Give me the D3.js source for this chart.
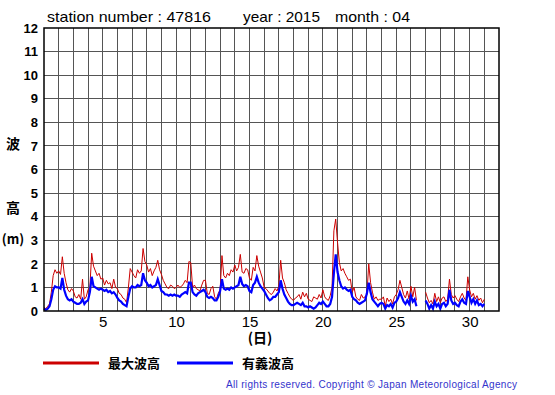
<!DOCTYPE html>
<html>
<head>
<meta charset="utf-8">
<script src="https://cdn.jsdelivr.net/npm/d3@7/dist/d3.min.js"></script>
<style>
  body { margin: 0; background: #fff; }
  svg { display: block; }
</style>
</head>
<body>
<div id="chart"></div>
<script>
// hourly step of the readings below (3-hourly, starting day 1 00h)
const stepHours = 3;

// 最大波高 (m), 8 readings per day, days 1..31
const maxWave = [
  0.15, 0.1, 0.2, 0.3, 0.8, 1.5, 1.75, 1.6,
  1.7, 1.55, 2.3, 1.6, 1.2, 0.9, 0.8, 0.95,
  0.85, 0.6, 0.55, 0.7, 0.5, 1.35, 0.5, 0.6,
  0.9, 1.0, 2.45, 1.9, 1.7, 1.5, 1.6, 1.35,
  1.4, 1.1, 1.3, 1.15, 1.2, 0.95, 1.35, 1.0,
  0.95, 0.75, 0.7, 0.55, 0.5, 0.35, 1.0, 1.8,
  1.65, 1.5, 1.4, 1.75, 1.6, 1.7, 2.65, 2.1,
  1.95, 1.65, 1.8, 1.5, 1.7, 1.85, 2.15, 1.75,
  1.55, 1.3, 1.15, 1.0, 0.95, 1.1, 1.05, 0.95,
  1.0, 1.1, 1.0, 1.05, 1.15, 1.3, 1.2, 2.1,
  2.05, 1.0, 1.1, 0.95, 0.9, 0.85, 1.1, 1.3,
  1.3, 0.75, 0.7, 0.95, 1.05, 0.6, 0.5, 0.75,
  0.9, 2.35, 1.5, 1.4, 1.6, 1.5, 1.75, 1.65,
  1.95, 1.7, 1.85, 2.4, 1.65, 1.6, 1.8, 1.75,
  1.4, 1.3, 1.85, 1.7, 2.35, 1.9, 1.65, 1.4,
  1.0, 0.95, 0.85, 0.75, 0.7, 0.8, 0.95, 0.85,
  1.05, 2.15, 1.4, 1.2, 0.9, 0.75, 0.6, 0.5,
  0.45, 0.55, 0.6, 0.7, 0.5, 0.8, 0.6, 0.75,
  0.5, 0.45, 0.4, 0.6, 0.55, 0.5, 0.7, 0.55,
  0.9, 0.6, 0.5, 0.45, 0.65, 1.0, 3.4, 3.9,
  2.9, 2.05, 1.7, 1.8, 1.6, 1.45, 1.3, 1.35,
  0.8, 1.0, 0.6, 0.5, 0.45, 0.7, 0.55, 0.6,
  0.7, 2.0, 1.2, 0.8, 0.5, 0.6, 0.45, 0.5,
  0.5, 0.6, 0.2, 0.55, 0.4, 0.5, 0.3, 0.6,
  0.7, 0.9, 1.3, 1.0, 0.7, 0.55, 0.85, 0.5,
  1.05, 0.6, 1.0, 0.45, null, null, null, null,
  0.8, 0.55, 0.35, 0.45, 0.3, 0.75, 0.4, 0.6,
  0.35, 0.55, 0.6, 0.4, 0.5, 1.35, 0.7, 0.55,
  0.65, 0.5, 0.4, 0.6, 0.75, 0.55, 0.45, 1.45,
  0.9, 0.6, 0.75, 0.5, 0.65, 0.45, 0.55, 0.35,
  0.5
];

// 有義波高 (m)
const sigWave = [
  0.1, 0.05, 0.1, 0.2, 0.5, 0.9, 1.05, 1.0,
  1.0, 0.95, 1.4, 0.9, 0.65, 0.5, 0.45, 0.5,
  0.4, 0.35, 0.3, 0.3, 0.35, 0.5, 0.3, 0.4,
  0.45, 0.8, 1.45, 1.05, 1.0, 0.95, 0.9, 0.95,
  0.9, 0.85, 0.9, 0.8, 0.85, 0.75, 0.8, 0.7,
  0.55, 0.45, 0.4, 0.3, 0.25, 0.2, 0.6, 0.95,
  1.05, 1.0, 1.0, 1.1, 1.05, 1.1, 1.6, 1.3,
  1.2, 1.05, 1.1, 1.0, 1.05, 1.1, 1.35, 1.1,
  0.85, 0.8, 0.7, 0.7, 0.65, 0.7, 0.65, 0.7,
  0.65, 0.65, 0.6, 0.7, 0.75, 0.8, 0.75, 1.2,
  1.2, 0.8, 0.7, 0.65, 0.75, 0.8, 0.85, 0.9,
  0.8, 0.6, 0.55, 0.6, 0.55, 0.45, 0.45, 0.6,
  0.85, 1.35, 0.95, 0.9, 0.95, 0.9, 1.0, 0.95,
  1.0, 1.05, 1.1, 1.45, 1.15, 1.05, 1.1, 1.05,
  0.85, 0.8, 1.1, 1.2, 1.45, 1.2, 1.05, 0.95,
  0.85, 0.7, 0.55, 0.45, 0.5, 0.6, 0.6, 0.7,
  0.8, 1.3, 0.95, 0.7, 0.55, 0.4, 0.3, 0.25,
  0.25, 0.3, 0.35, 0.3, 0.25, 0.35, 0.2, 0.2,
  0.15, 0.2, 0.15, 0.1, 0.15, 0.25, 0.35, 0.3,
  0.4, 0.3, 0.2, 0.2, 0.3, 0.6, 1.6, 2.4,
  1.65, 1.3, 1.05, 0.95, 1.0, 0.9, 0.85, 0.9,
  0.6, 0.5, 0.45, 0.35, 0.3, 0.35, 0.4, 0.45,
  0.75, 1.2, 0.8, 0.5, 0.4, 0.3, 0.2, 0.3,
  0.35, 0.3, 0.1, 0.25, 0.2, 0.3, 0.15, 0.35,
  0.4, 0.55, 0.8, 0.6, 0.4, 0.3, 0.45, 0.3,
  0.65, 0.4, 0.5, 0.2, null, null, null, null,
  0.45, 0.3, 0.1, 0.25, 0.1, 0.4, 0.2, 0.3,
  0.1, 0.3, 0.35, 0.2, 0.3, 0.9, 0.45, 0.3,
  0.35, 0.25, 0.2, 0.4, 0.5, 0.35, 0.3, 0.85,
  0.6, 0.35, 0.5, 0.3, 0.45, 0.25, 0.3, 0.2,
  0.3
];

const yTicks = d3.range(0, 13);
const xTicks = [5, 10, 15, 20, 25, 30];
const legendNames = ["最大波高", "有義波高"];
const colors = ["#cc0000", "#0000ff"];

const width = 555, height = 395;
const margin = {top: 28, right: 56, bottom: 84, left: 44};
const plotW = width - margin.left - margin.right;
const plotH = height - margin.top - margin.bottom;

const svg = d3.select("#chart").append("svg")
  .attr("width", width)
  .attr("height", height)
  .style("font-family", "'Liberation Sans', Arial, sans-serif");

const x = d3.scaleLinear().domain([1, 32]).range([0, plotW]);
const y = d3.scaleLinear().domain([0, 12]).range([plotH, 0]);

const g = svg.append("g")
  .attr("transform", "translate(" + margin.left + "," + margin.top + ")");

// grid
g.append("g")
  .selectAll("line")
  .data(d3.range(2, 32))
  .join("line")
  .attr("x1", d => x(d)).attr("x2", d => x(d))
  .attr("y1", 0).attr("y2", plotH)
  .attr("stroke", "#555").attr("stroke-width", 1)
  .attr("shape-rendering", "crispEdges");

g.append("g")
  .selectAll("line")
  .data(yTicks.slice(1, -1))
  .join("line")
  .attr("x1", 0).attr("x2", plotW)
  .attr("y1", d => y(d)).attr("y2", d => y(d))
  .attr("stroke", "#555").attr("stroke-width", 1)
  .attr("shape-rendering", "crispEdges");

// series
const toPoints = arr => arr.map((v, i) => ({t: 1 + i * stepHours / 24, v: v}));
const line = d3.line()
  .defined(d => d.v != null)
  .x(d => x(d.t))
  .y(d => y(d.v));

g.append("path")
  .datum(toPoints(maxWave))
  .attr("fill", "none")
  .attr("stroke", colors[0])
  .attr("stroke-width", 1)
  .attr("d", line);

g.append("path")
  .datum(toPoints(sigWave))
  .attr("fill", "none")
  .attr("stroke", colors[1])
  .attr("stroke-width", 2.2)
  .attr("d", line);

// frame
g.append("rect")
  .attr("width", plotW).attr("height", plotH)
  .attr("fill", "none").attr("stroke", "#000").attr("stroke-width", 1.5);

// y axis labels
const yAxis = g.append("g").call(d3.axisLeft(y).tickValues(yTicks).tickSize(0).tickPadding(6));
yAxis.select(".domain").remove();
yAxis.selectAll("text")
  .attr("font-size", 13).attr("font-weight", "bold")
  .attr("font-family", "'Liberation Sans', Arial, sans-serif")
  .attr("fill", "#000");

// x axis labels
const xAxis = g.append("g")
  .attr("transform", "translate(0," + plotH + ")")
  .call(d3.axisBottom(x).tickValues(xTicks).tickSize(0).tickPadding(5));
xAxis.select(".domain").remove();
xAxis.selectAll("text")
  .attr("font-size", 15)
  .attr("font-family", "'Liberation Sans', Arial, sans-serif")
  .attr("fill", "#000");

// title
const title = svg.append("g").attr("font-size", 15).attr("fill", "#000");
title.append("text").attr("x", 47).attr("y", 22)
  .attr("textLength", 164).attr("lengthAdjust", "spacingAndGlyphs").text("station number : 47816");
title.append("text").attr("x", 243).attr("y", 22)
  .attr("textLength", 77).attr("lengthAdjust", "spacingAndGlyphs").text("year : 2015");
title.append("text").attr("x", 335).attr("y", 22)
  .attr("textLength", 75).attr("lengthAdjust", "spacingAndGlyphs").text("month : 04");

// axis titles
const cjk = "'Noto Sans CJK JP', sans-serif";
svg.append("text").attr("x", 13).attr("y", 149).attr("text-anchor", "middle")
  .attr("font-family", cjk).attr("font-weight", "bold").attr("font-size", 14).text("波");
svg.append("text").attr("x", 13).attr("y", 213).attr("text-anchor", "middle")
  .attr("font-family", cjk).attr("font-weight", "bold").attr("font-size", 14).text("高");
svg.append("text").attr("x", 13).attr("y", 244).attr("text-anchor", "middle")
  .attr("font-family", cjk).attr("font-weight", "bold").attr("font-size", 13).text("(m)");
svg.append("text").attr("x", 260).attr("y", 343).attr("text-anchor", "middle")
  .attr("font-family", cjk).attr("font-weight", "bold").attr("font-size", 14).text("(日)");

// legend
const legendX = [43, 177];
const legend = svg.append("g");
legendNames.forEach((name, i) => {
  legend.append("line")
    .attr("x1", legendX[i]).attr("x2", legendX[i] + 56)
    .attr("y1", 363).attr("y2", 363)
    .attr("stroke", colors[i]).attr("stroke-width", 3);
  legend.append("text")
    .attr("x", legendX[i] + 65).attr("y", 368)
    .attr("font-family", cjk).attr("font-weight", "bold").attr("font-size", 13)
    .text(name);
});

// copyright
svg.append("text")
  .attr("x", 226).attr("y", 388)
  .attr("font-size", 10).attr("fill", "#3333cc")
  .attr("textLength", 291).attr("lengthAdjust", "spacing")
  .text("All rights reserved. Copyright © Japan Meteorological Agency");
</script>
</body>
</html>
